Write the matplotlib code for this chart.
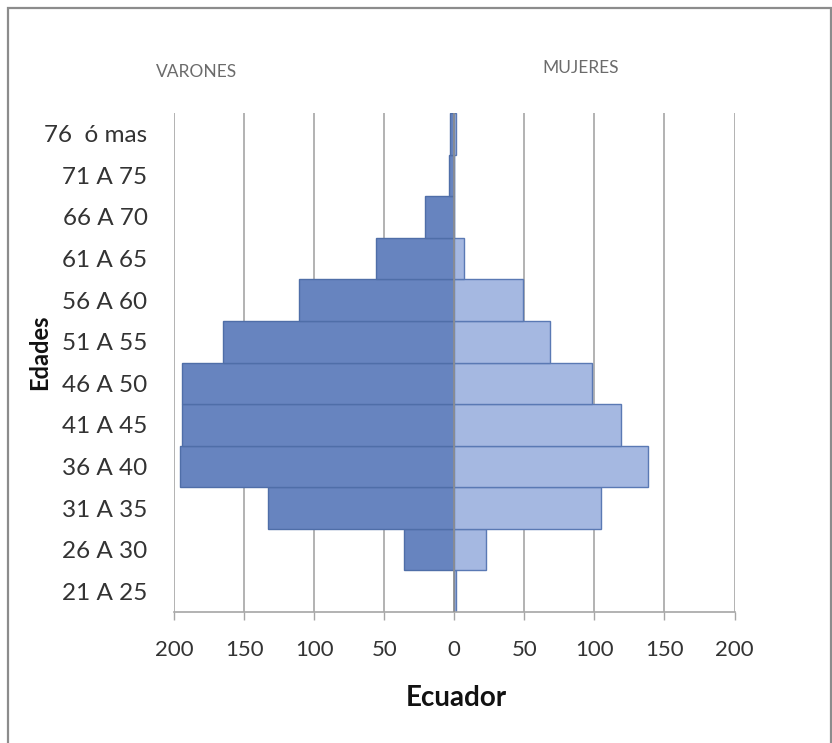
import matplotlib
matplotlib.use("Agg")
import matplotlib.pyplot as plt
from matplotlib.patches import Rectangle
import numpy as np

plt.rcParams['font.family'] = ['Lato', 'DejaVu Sans']

categories = ["21 A 25", "26 A 30", "31 A 35", "36 A 40", "41 A 45", "46 A 50",
              "51 A 55", "56 A 60", "61 A 65", "66 A 70", "71 A 75", "76  ó mas"]
varones = [0, 36, 133, 196, 194, 194, 165, 111, 56, 21, 4, 3]
mujeres = [1, 23, 105, 138, 119, 98, 68, 49, 7, 0, 0, 1]
xticks = [-200, -150, -100, -50, 0, 50, 100, 150, 200]
xticklabels = ["200", "150", "100", "50", "0", "50", "100", "150", "200"]

W, H = 832, 743
fig = plt.figure(figsize=(W / 100, H / 100), dpi=100)
fig.patch.set_facecolor("white")

# outer frame
fig.add_artist(Rectangle((8 / W, -0.05), (831 - 8) / W, 1.05 - 8 / H,
                         transform=fig.transFigure, fill=False,
                         edgecolor="#8c8c8c", linewidth=1.6, clip_on=False))

left, right = 174 / W, 734.5 / W
bottom, top = 1 - 612 / H, 1 - 113 / H
ax = fig.add_axes([left, bottom, right - left, top - bottom])

y = np.arange(len(categories))
ax.barh(y, [-v for v in varones], height=1.0, color="#6784bf",
        edgecolor="#4f6ea8", linewidth=1.0, zorder=2)
ax.barh(y, mujeres, height=1.0, color="#a5b8e1",
        edgecolor="#5a79b4", linewidth=1.0, zorder=2)

ax.set_xlim(-200, 200)
ax.set_ylim(-0.5, len(categories) - 0.5)

ax.set_xticks(xticks)
ax.set_xticklabels(xticklabels)
ax.set_yticks(y)
ax.set_yticklabels(categories)
for lbl in ax.get_yticklabels():
    lbl.set_y(lbl.get_position()[1])
    lbl.set_va("center_baseline")

for xv in xticks:
    if xv != 0:
        ax.axvline(xv, color="#a6a6a6", linewidth=1.2, zorder=1)
ax.axvline(0, color="#8f8f8f", linewidth=1.2, zorder=3)

for s in ["top", "right", "left"]:
    ax.spines[s].set_visible(False)
ax.spines["bottom"].set_color("#a6a6a6")
ax.spines["bottom"].set_linewidth(1.2)

ax.tick_params(axis="x", length=6, width=1, color="#a6a6a6",
               labelsize=16, labelcolor="#333333", pad=14)
ax.tick_params(axis="y", length=0, labelsize=17.5, labelcolor="#333333", pad=19)

fig.text(456 / W, 1 - 698 / H, "Ecuador", ha="center", va="center",
         fontsize=20, fontweight="bold", color="#111111")
fig.text(40 / W, 1 - 352 / H, "Edades", ha="center", va="center",
         rotation=90, fontsize=17, fontweight="bold", color="#111111")
fig.text(197 / W, 1 - 72 / H, "VARONES", ha="center", va="center",
         fontsize=12.5, color="#6b6b6b")
fig.text(581 / W, 1 - 68 / H, "MUJERES", ha="center", va="center",
         fontsize=12.5, color="#6b6b6b")

fig.savefig("out.png", dpi=100)
